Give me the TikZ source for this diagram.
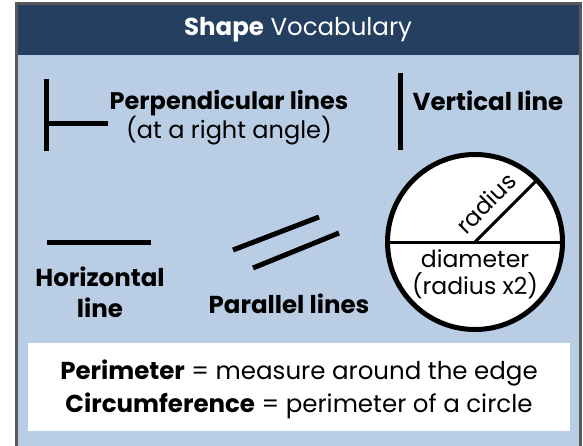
\documentclass[tikz,border=0pt]{standalone}
\usepackage{fontspec}
\setmainfont{Poppins}
\usetikzlibrary{positioning}

\definecolor{headnavy}{HTML}{243F60}
\definecolor{paleblue}{HTML}{B9CDE5}
\definecolor{framegray}{HTML}{595959}

\begin{document}
\begin{tikzpicture}[
    x=1pt, y=-1pt,
    term/.style={
        font=\fontsize{24}{29}\selectfont,
        align=center,
        inner sep=0pt
    },
    boldterm/.style={term, font=\bfseries\fontsize{24.5}{31}\selectfont},
    small/.style={term, font=\fontsize{23.5}{27}\selectfont},
    stroke/.style={line width=5pt},
    thinstroke/.style={line width=3pt}
]
\useasboundingbox (0,0) rectangle (583,445);

% panel and header
\draw[framegray, line width=2.5pt, fill=paleblue] (16.5,3.5) rectangle (580.5,470);
\fill[headnavy] (17.7,4.7) rectangle (579.3,55);
\node[term, text=white, font=\fontsize{24.5}{26}\selectfont] (title) at (298,30) {\textbf{Shape} Vocabulary};

% perpendicular lines
\coordinate (perpTop) at (46.5,79);
\coordinate (perpBot) at (46.5,151);
\coordinate (perpEnd) at (108,123);
\draw[stroke] (perpTop) -- (perpBot);
\draw[stroke] (perpTop |- perpEnd) -- (perpEnd);
\node[term] (perpText) at (229,118) {\textbf{Perpendicular lines}\\(at a right angle)};

% vertical line
\coordinate (vertTop) at (400.5,73);
\coordinate (vertBot) at (400.5,150);
\draw[stroke] (vertTop) -- (vertBot);
\node[boldterm] (vertText) at (488,101) {Vertical line};

% horizontal line
\coordinate (horLeft) at (47,242);
\coordinate (horRight) at (151,242);
\draw[stroke] (horLeft) -- (horRight);
\node[boldterm] (horText) at (100,292.5) {Horizontal\\line};

% parallel lines
\coordinate (parA1) at (233,250);
\coordinate (parA2) at (319,217);
\coordinate (parB1) at (253,268);
\coordinate (parB2) at (339,233);
\draw[stroke] (parA1) -- (parA2);
\draw[stroke] (parB1) -- (parB2);
\node[boldterm] (parText) at (289,304) {Parallel lines};

% circle
\node[circle, draw, fill=white, line width=5pt, outer sep=0pt, inner sep=0pt,
    minimum size=175pt] (circ) at (475,242) {};
\draw[thinstroke] (circ.west) -- (circ.east);
\draw[thinstroke] (circ.center) -- (circ.45);
\node[small, rotate=45] (radText) at (486,203) {radius};
\node[small] (diamText) at (475,274.5) {diameter\\(radius x2)};

% definitions
\node[fill=white, minimum width=542pt, minimum height=88pt, inner sep=0pt] (defBox) at (299,387) {};
\node[term, font=\fontsize{24.5}{33}\selectfont] (defText) at (299,389.5) {\textbf{Perimeter} = measure around the edge\\\textbf{Circumference} = perimeter of a circle};

\end{tikzpicture}
\end{document}
